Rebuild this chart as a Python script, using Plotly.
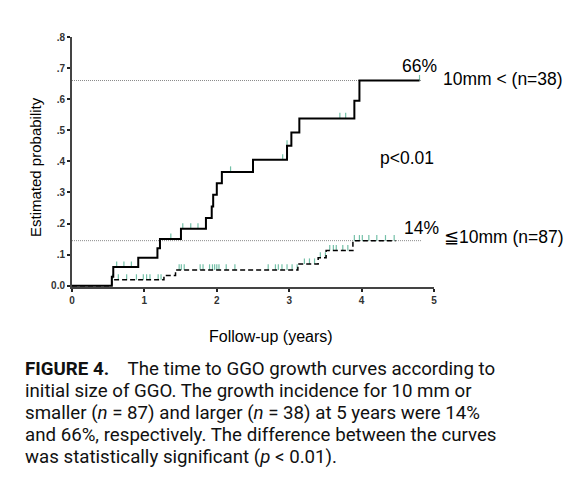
import plotly.graph_objects as go

# ---- data ----
large_times = [0, 0.55, 0.57, 0.915, 1.18, 1.215, 1.505, 1.85, 1.93, 1.95, 2.0, 2.07, 2.50, 2.97, 3.03, 3.14, 3.90, 3.97, 4.80]
large_probs = [0, 0.029, 0.06, 0.09, 0.121, 0.15, 0.183, 0.218, 0.255, 0.293, 0.33, 0.366, 0.405, 0.45, 0.493, 0.538, 0.595, 0.66, 0.66]
large_cens_t = [0.617, 0.717, 0.82, 1.365, 1.53, 1.64, 1.74, 2.19, 2.91, 2.97, 3.70, 3.78, 4.80]
large_cens_p = [0.06, 0.06, 0.06, 0.15, 0.183, 0.183, 0.183, 0.366, 0.405, 0.45, 0.538, 0.538, 0.66]

small_times = [0, 0.55, 1.27, 1.43, 3.12, 3.40, 3.51, 3.88, 4.47]
small_probs = [0, 0.019, 0.033, 0.051, 0.07, 0.09, 0.113, 0.145, 0.145]
small_cens_t = [0.56, 0.64, 0.755, 0.89, 0.985, 1.03, 1.077, 1.19, 1.23,
                1.48, 1.51, 1.55, 1.77, 1.81, 1.90, 1.94, 1.97, 2.0, 2.03, 2.13, 2.25,
                2.71, 2.81, 2.85, 2.90, 2.97, 3.04, 3.11,
                3.21, 3.28, 3.35, 3.43, 3.50,
                3.56, 3.61, 3.65, 3.74, 3.81,
                3.90, 3.97, 4.01, 4.10, 4.21, 4.33, 4.45]
small_cens_p = [0.019] * 9 + [0.051] * 12 + [0.051] * 7 + [0.07] * 3 + [0.09] * 2 + [0.113] * 5 + [0.145] * 7

ref_levels = [0.66, 0.145]
ref_end = 4.82

y_ticks = [0, 0.1, 0.2, 0.3, 0.4, 0.5, 0.6, 0.7, 0.8]
y_ticklabels = ["0.0", ".1", ".2", ".3", ".4", ".5", ".6", ".7", ".8"]
x_ticks = [0, 1, 2, 3, 4, 5]

caption_lines = [
    "<b>FIGURE 4.</b>&nbsp;&nbsp;&nbsp;&nbsp;The time to GGO growth curves according to",
    "initial size of GGO. The growth incidence for 10 mm or",
    "smaller (<i>n</i> = 87) and larger (<i>n</i> = 38) at 5 years were 14%",
    "and 66%, respectively. The difference between the curves",
    "was statistically significant (<i>p</i> &lt; 0.01).",
]

# ---- geometry helpers (screen pixel -> paper); page body adds an 8px offset ----
OFF = 8
W, H = 586 - OFF, 480 - OFF
L, R, T, B = 72 - OFF, 586 - 434, 37 - OFF, 480 - 287
PW, PH = W - L - R, H - T - B
def px(x):
    return (x - OFF - L) / PW
def py(y):
    return (H - B - (y - OFF)) / PH

TICK = 0.018
CENS_COLOR = "#74c0a8"

def censor_xy(ts, ps):
    xs, ys = [], []
    for t, p in zip(ts, ps):
        xs += [t, t, None]
        ys += [p, p + TICK, None]
    return xs, ys

fig = go.Figure()

# reference dotted lines
for lv in ref_levels:
    fig.add_trace(go.Scatter(x=[0, ref_end], y=[lv, lv], mode="lines",
                             line=dict(color="#8a8a8a", width=1, dash="1px,1px"),
                             hoverinfo="skip", showlegend=False))

cx, cy = censor_xy(small_cens_t, small_cens_p)
fig.add_trace(go.Scatter(x=cx, y=cy, mode="lines", line=dict(color=CENS_COLOR, width=1.2),
                         showlegend=False, hoverinfo="skip"))
cx, cy = censor_xy(large_cens_t, large_cens_p)
fig.add_trace(go.Scatter(x=cx, y=cy, mode="lines", line=dict(color=CENS_COLOR, width=1.2),
                         showlegend=False, hoverinfo="skip"))

fig.add_trace(go.Scatter(x=small_times, y=small_probs, mode="lines", line_shape="hv",
                         line=dict(color="black", width=1.5, dash="5px,3px"),
                         name="≦10mm (n=87)", showlegend=False))
fig.add_trace(go.Scatter(x=large_times, y=large_probs, mode="lines", line_shape="hv",
                         line=dict(color="black", width=2),
                         name="10mm < (n=38)", showlegend=False))

ann = []
def add(text, x, y, size=17.5, **kw):
    d = dict(text=text, x=px(x), y=py(y), xref="paper", yref="paper", showarrow=False,
             font=dict(family="Arial, Liberation Sans", size=size, color="black"),
             xanchor="center", yanchor="middle")
    d.update(kw)
    ann.append(d)

add("66%", 419, 66)
add("10mm &lt; (n=38)", 503, 79)
add("p&lt;0.01", 407, 158)
add("14%", 421, 228)
add("≦10mm (n=87)", 504, 237)
add("Estimated probability", 35, 167, size=15, textangle=-90)
add("Follow-up (years)", 271, 336, size=16)

cap_y = [369, 391, 413, 435, 457]
for line, yy in zip(caption_lines, cap_y):
    ann.append(dict(text=line, x=px(24), y=py(yy), xref="paper", yref="paper", showarrow=False,
                    xanchor="left", yanchor="middle", borderpad=0,
                    font=dict(family="Roboto", size=18.7, color="#111")))

fig.update_layout(
    width=W, height=H, margin=dict(l=L, r=R, t=T, b=B, autoexpand=False),
    paper_bgcolor="white", plot_bgcolor="white",
    annotations=ann,
    xaxis=dict(range=[0, 5], tickvals=x_ticks, ticktext=[f"<b>{v}</b>" for v in x_ticks],
               showline=True, linecolor="#444", linewidth=2, ticks="outside", ticklen=3,
               tickwidth=2, tickcolor="#222", showgrid=False, zeroline=False,
               tickfont=dict(family="Arial", size=10, color="#333")),
    yaxis=dict(range=[-0.004, 0.8], tickvals=y_ticks, ticktext=[f"<b>{t}</b>" for t in y_ticklabels],
               showline=True, linecolor="#444", linewidth=2, ticks="outside", ticklen=3,
               tickwidth=2, tickcolor="#222", showgrid=False, zeroline=False,
               tickfont=dict(family="Arial", size=10, color="#333")),
)

fig.write_html("out.html")
